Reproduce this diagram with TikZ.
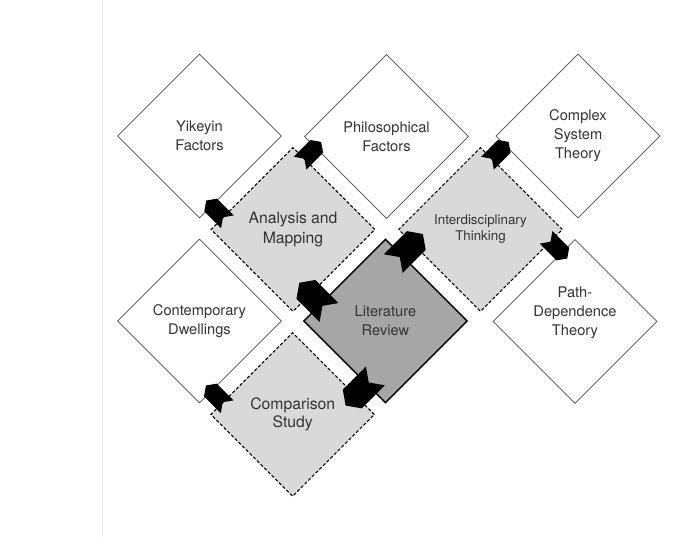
\documentclass[tikz,border=0pt]{standalone}
\usepackage{fontspec}
\setmainfont{TeX Gyre Heros}
\usetikzlibrary{shapes.geometric,shapes.symbols,calc}
\definecolor{ink}{HTML}{333333}
\definecolor{midfill}{HTML}{D9D9D9}
\definecolor{corefill}{HTML}{A6A6A6}
\definecolor{edgegray}{HTML}{4D4D4D}
\definecolor{panelline}{HTML}{E8E8E8}

\begin{document}
\begin{tikzpicture}[x=0.75pt,y=-0.75pt,
  box/.style={diamond, aspect=1, inner sep=0pt, minimum width=123pt,
    minimum height=123pt, align=center, text=ink,
    font=\fontsize{11}{14.25}\selectfont},
  outerbox/.style={box, draw=edgegray, line width=0.6pt, fill=white},
  midbox/.style={box, draw=black, line width=0.8pt,
    dash pattern=on 2.4pt off 1.5pt, fill=midfill},
  corebox/.style={box, draw=black, line width=1.1pt, fill=corefill},
  txt/.style={align=center, text=ink, inner sep=0pt,
    font=\fontsize{11}{14.25}\selectfont},
  flow/.style={signal, signal to=east, signal from=west,
    signal pointer angle=110, fill=black, draw=none, inner sep=0pt},
  smallflow/.style={flow, minimum width=22.5pt, minimum height=13.5pt},
  bigflow/.style={flow, minimum width=31.5pt, minimum height=20pt},
]
\useasboundingbox (0,0) rectangle (686,537);
\fill[white] (0,0) rectangle (686,537);
\draw[panelline, line width=0.6pt] (102.5,0) -- (102.5,537);

% outer ring of topics
\node[outerbox] (yik) at (199.5,136) {Yikeyin\\Factors};
\node[outerbox] (phi) at (386.5,136.5) {Philosophical\\Factors};
\node[outerbox] (cst) at (578,136) {Complex\\System\\Theory};
\node[outerbox] (con) at (199.5,321) {Contemporary\\Dwellings};
\node[outerbox] (pdt) at (575,321.5) {};
\node[txt] (pdt-text) at ($(pdt.center)+(0,-9)$) {Path-\\Dependence\\Theory};

% intermediate methods
\node[midbox, font=\fontsize{11.8}{15}\selectfont] (anl) at (293,229.5) {Analysis and\\Mapping};
\node[midbox, font=\fontsize{10}{12}\selectfont] (inter) at (480.5,229.5) {Interdisciplinary\\Thinking};
\node[midbox, font=\fontsize{11.8}{13.7}\selectfont] (cmp) at (292.7,414.5) {Comparison\\Study};

% core
\node[corebox] (lit) at (385.5,321) {Literature\\Review};

% flows from the core outwards
\node[bigflow, rotate=45]   (f-lit-inter) at ($(lit.north)!0.2!(lit.east)+(6,-6)$) {};
\node[bigflow, rotate=135]  (f-lit-anl)   at ($(lit.west)!0.21!(lit.north)+(-6,-6)$) {};
\node[bigflow, rotate=-135] (f-lit-cmp)   at ($(lit.south)!0.23!(lit.west)+(-6,6)$) {};

\node[smallflow, rotate=135] (f-anl-yik)   at ($(anl.west)!0.15!(anl.north)+(-6,-6)$) {};
\node[smallflow, rotate=45]  (f-anl-phi)   at ($(anl.north)!0.14!(anl.east)+(6,-6)$) {};
\node[smallflow, rotate=45]  (f-inter-cst) at ($(inter.north)!0.14!(inter.east)+(6,-6)$) {};
\node[smallflow, rotate=-45] (f-inter-pdt) at ($(inter.east)!0.15!(inter.south)+(6,6)$) {};
\node[smallflow, rotate=135] (f-cmp-con)   at ($(cmp.west)!0.15!(cmp.north)+(-6,-6)$) {};
\end{tikzpicture}
\end{document}
